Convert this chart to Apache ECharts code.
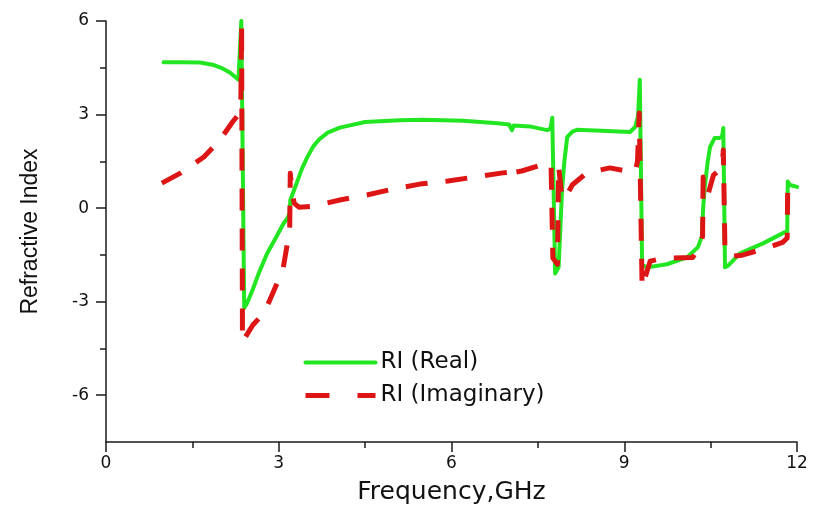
<!DOCTYPE html>
<html>
<head>
<meta charset="utf-8">
<script src="https://cdn.jsdelivr.net/npm/echarts@6/dist/echarts.min.js"></script>
<style>
html,body{margin:0;padding:0;background:#fff;}
#chart{width:814px;height:510px;}
</style>
</head>
<body>
<div id="chart"></div>
<script>
// Real part of refractive index
const realX = [1.0, 1.3, 1.63, 1.85, 2.0, 2.15, 2.3, 2.33, 2.35, 2.40, 2.45, 2.55, 2.65, 2.8, 2.95, 3.08, 3.16, 3.19, 3.2, 3.26, 3.32, 3.4, 3.5, 3.6, 3.7, 3.85, 4.06, 4.5, 5.1, 5.5, 6.2, 6.8, 7.0, 7.05, 7.08, 7.36, 7.66, 7.72, 7.75, 7.80, 7.86, 7.92, 7.96, 8.01, 8.1, 8.18, 8.6, 9.1, 9.19, 9.24, 9.27, 9.31, 9.40, 9.74, 10.09, 10.28, 10.35, 10.37, 10.40, 10.45, 10.49, 10.57, 10.66, 10.70, 10.72, 10.75, 10.8, 11.01, 11.41, 11.79, 11.83, 11.84, 11.88, 12.0];
const realY = [4.68, 4.68, 4.67, 4.6, 4.5, 4.35, 4.12, 4.1, 6.0, -3.2, -3.05, -2.6, -2.1, -1.45, -0.95, -0.5, -0.3, -0.15, 0.25, 0.55, 0.85, 1.25, 1.65, 1.98, 2.2, 2.42, 2.58, 2.76, 2.82, 2.83, 2.8, 2.72, 2.68, 2.5, 2.65, 2.62, 2.5, 2.55, 2.9, -2.1, -1.9, 0.6, 1.5, 2.28, 2.45, 2.51, 2.48, 2.44, 2.6, 2.95, 4.12, -1.83, -1.9, -1.8, -1.58, -1.25, -0.9, 0.0, 0.7, 1.5, 1.96, 2.25, 2.25, 2.3, 2.57, -1.9, -1.85, -1.45, -1.13, -0.77, -0.75, 0.85, 0.74, 0.68];
// Imaginary part of refractive index
const imagX = [0.97, 1.3, 1.7, 1.98, 2.2, 2.3, 2.34, 2.355, 2.37, 2.40, 2.55, 2.75, 2.95, 3.07, 3.19, 3.20, 3.23, 3.27, 3.35, 3.6, 4.06, 4.53, 4.98, 5.45, 5.94, 6.41, 6.89, 7.0, 7.04, 7.06, 7.1, 7.22, 7.5, 7.62, 7.68, 7.73, 7.76, 7.80, 7.84, 7.86, 7.92, 7.98, 8.1, 8.35, 8.75, 9.0, 9.19, 9.23, 9.26, 9.31, 9.45, 9.67, 10.19, 10.32, 10.36, 10.37, 10.42, 10.46, 10.55, 10.70, 10.72, 10.75, 10.85, 11.05, 11.45, 11.75, 11.83, 11.84, 11.88];
const imagY = [0.8, 1.13, 1.64, 2.19, 2.77, 3.0, 3.12, 5.9, -4.3, -4.2, -3.75, -3.35, -2.5, -2.0, -0.7, 1.12, 0.5, 0.15, 0.03, 0.06, 0.26, 0.42, 0.61, 0.77, 0.87, 1.0, 1.13, 1.15, 1.05, 1.25, 1.15, 1.19, 1.35, 1.45, 1.48, 1.3, -1.6, -1.7, -1.8, 1.35, 0.3, 0.35, 0.75, 1.13, 1.29, 1.2, 1.16, 1.5, 3.05, -2.54, -1.7, -1.61, -1.58, -1.19, -0.9, 1.0, 0.6, 0.48, 1.06, 1.3, 1.86, -1.45, -1.55, -1.51, -1.29, -1.1, -0.96, 0.9, 0.85];
const xTicks = [0, 3, 6, 9, 12];
const yTicks = [-6, -3, 0, 3, 6];
const yMinorTicks = [-4.5, -1.5, 1.5, 4.5];

const zip = (xs, ys) => xs.map((x, i) => [x, ys[i]]);
const axisColor = '#1a1a1a';
const greenColor = '#22e622';
const redColor = '#dd1515';

const chart = echarts.init(document.getElementById('chart'), null, {renderer: 'canvas'});
chart.setOption({
  animation: false,
  backgroundColor: '#ffffff',
  grid: {left: 106, right: 17, top: 21, bottom: 68, containLabel: false},
  legend: {
    orient: 'vertical',
    left: 298,
    top: 346,
    itemWidth: 70,
    itemHeight: 14,
    itemGap: 10,
    textStyle: {fontFamily: 'DejaVu Sans', fontSize: 23, color: '#111'},
    data: [
      {name: 'RI (Real)', itemStyle: {opacity: 0}, lineStyle: {color: greenColor, width: 4, type: 'solid'}},
      {name: 'RI (Imaginary)', itemStyle: {opacity: 0}, lineStyle: {color: redColor, width: 5, type: [24, 28]}}
    ]
  },
  xAxis: {
    type: 'value',
    min: 0, max: 12, interval: 3,
    name: 'Frequency,GHz',
    nameLocation: 'middle',
    nameGap: 38,
    nameTextStyle: {fontFamily: 'DejaVu Sans', fontSize: 25, color: '#111'},
    axisLine: {show: true, onZero: false, lineStyle: {color: axisColor, width: 1.5}},
    axisTick: {show: true, length: 10, lineStyle: {color: axisColor, width: 1.5}},
    minorTick: {show: true, splitNumber: 2, length: 6, lineStyle: {color: axisColor, width: 1.5}},
    axisLabel: {fontFamily: 'DejaVu Sans', fontSize: 17, color: '#111', margin: 13,
      customValues: xTicks},
    splitLine: {show: false},
    minorSplitLine: {show: false}
  },
  yAxis: [{
    type: 'value',
    min: -7.5, max: 6,
    name: 'Refractive Index',
    nameLocation: 'middle',
    nameGap: 64,
    nameTextStyle: {fontFamily: 'Liberation Sans', fontSize: 23, color: '#111'},
    axisLine: {show: true, onZero: false, lineStyle: {color: axisColor, width: 1.5}},
    axisTick: {show: true, length: 10, customValues: yTicks, lineStyle: {color: axisColor, width: 1.5}},
    axisLabel: {fontFamily: 'DejaVu Sans', fontSize: 17, color: '#111', margin: 17, customValues: yTicks},
    splitLine: {show: false}
  }, {
    type: 'value',
    min: -7.5, max: 6,
    position: 'left',
    offset: 0,
    axisLine: {show: false},
    axisTick: {show: true, length: 6, customValues: yMinorTicks, lineStyle: {color: axisColor, width: 1.5}},
    axisLabel: {show: false},
    splitLine: {show: false}
  }],
  series: [{
    name: 'RI (Real)',
    type: 'line',
    data: zip(realX, realY),
    symbol: 'none',
    smooth: false,
    color: greenColor,
    lineStyle: {color: greenColor, width: 4, cap: 'round', join: 'round'},
    z: 2
  }, {
    name: 'RI (Imaginary)',
    type: 'line',
    data: zip(imagX, imagY),
    symbol: 'none',
    smooth: false,
    color: redColor,
    lineStyle: {color: redColor, width: 5, type: [22, 18], cap: 'butt', join: 'round'},
    z: 3
  }]
});
</script>
</body>
</html>
